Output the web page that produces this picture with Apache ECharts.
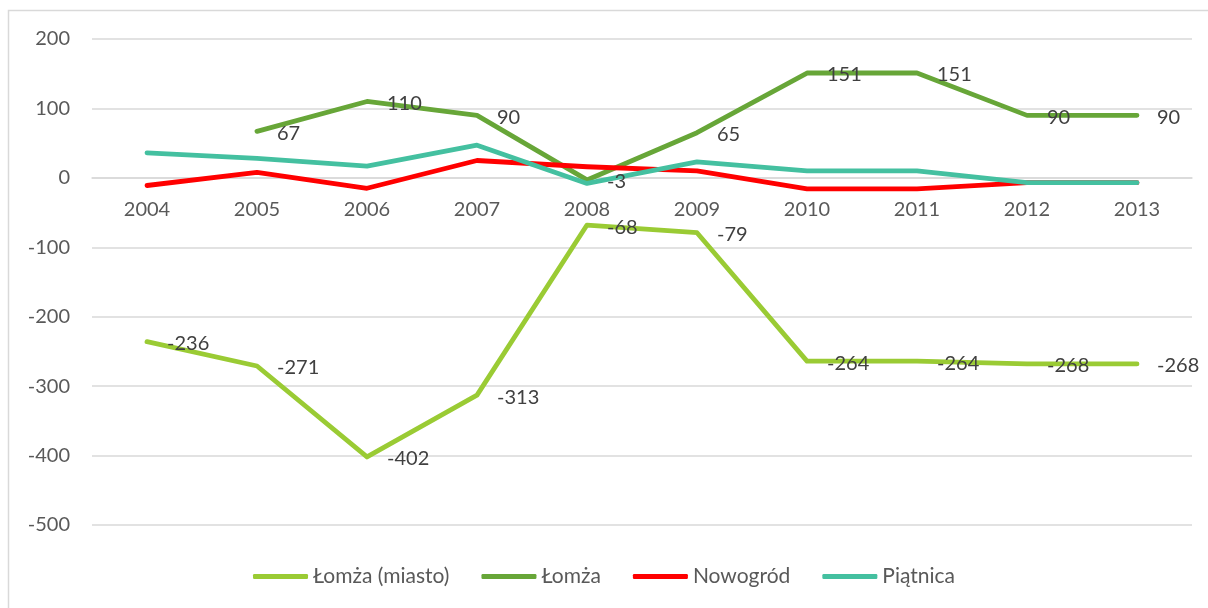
<!DOCTYPE html>
<html>
<head>
<meta charset="utf-8">
<script src="https://cdn.jsdelivr.net/npm/echarts@6/dist/echarts.min.js"></script>
<style>
  html, body { margin: 0; padding: 0; background: #fff; }
  #chart { width: 1208px; height: 608px; }
</style>
</head>
<body>
<div id="chart"></div>
<script>
const FONT = "Lato";
const TICK = "#595959";
const LABEL = "#404040";
const GRID = "#d9d9d9";

const years = ["2004", "2005", "2006", "2007", "2008", "2009", "2010", "2011", "2012", "2013"];
const lomzaMiasto = [-236, -271, -402, -313, -68, -79, -264, -264, -268, -268];
const lomza = [null, 67, 110, 90, -3, 65, 151, 151, 90, 90];
const nowogrod = [-11, 8, -15, 25, 16, 10, -16, -16, -7, -7];
const piatnica = [36, 28, 17, 47, -8, 23, 10, 10, -7, -7];

function lineSeries(name, data, color, showLabel) {
  return {
    name,
    type: "line",
    data,
    showSymbol: true,
    symbol: "circle",
    symbolSize: 0,
    lineStyle: { width: 4.8, color, cap: "round", join: "round" },
    itemStyle: { color },
    label: {
      show: showLabel,
      position: "right",
      distance: 20,
      offset: [0, 2],
      color: LABEL,
      fontFamily: FONT,
      fontSize: 20,
    },
    emphasis: { disabled: true },
  };
}

const chart = echarts.init(document.getElementById("chart"), null, { renderer: "canvas" });
chart.setOption({
  animation: false,
  textStyle: { fontFamily: FONT },
  graphic: [{
    type: "rect",
    shape: { x: 8.5, y: 10.5, width: 1400, height: 800 },
    style: { fill: null, stroke: GRID, lineWidth: 1.5 },
    silent: true,
  }],
  grid: { left: 92, right: 16, top: 39, bottom: 83 },
  xAxis: {
    type: "category",
    data: years,
    boundaryGap: true,
    position: "bottom",
    offset: -347,
    axisLine: { onZero: false, lineStyle: { color: GRID, width: 1.5 } },
    axisTick: { show: false },
    axisLabel: { color: TICK, fontSize: 20, fontFamily: FONT, margin: 22 },
  },
  yAxis: {
    type: "value",
    min: -500,
    max: 200,
    interval: 100,
    axisLine: { show: false },
    axisTick: { show: false },
    axisLabel: { color: TICK, fontSize: 20, fontFamily: FONT, margin: 22 },
    splitLine: { lineStyle: { color: GRID, width: 1.5 } },
  },
  legend: {
    bottom: 16,
    left: "center",
    icon: "roundRect",
    itemWidth: 55,
    itemHeight: 5,
    itemGap: 32,
    textStyle: { color: TICK, fontSize: 21, fontFamily: FONT },
    data: ["Łomża (miasto)", "Łomża", "Nowogród", "Piątnica"],
  },
  series: [
    lineSeries("Łomża (miasto)", lomzaMiasto, "#9acb34", true),
    lineSeries("Łomża", lomza, "#67a638", true),
    lineSeries("Nowogród", nowogrod, "#ff0000", false),
    lineSeries("Piątnica", piatnica, "#44c0a0", false),
  ],
});
</script>
</body>
</html>
